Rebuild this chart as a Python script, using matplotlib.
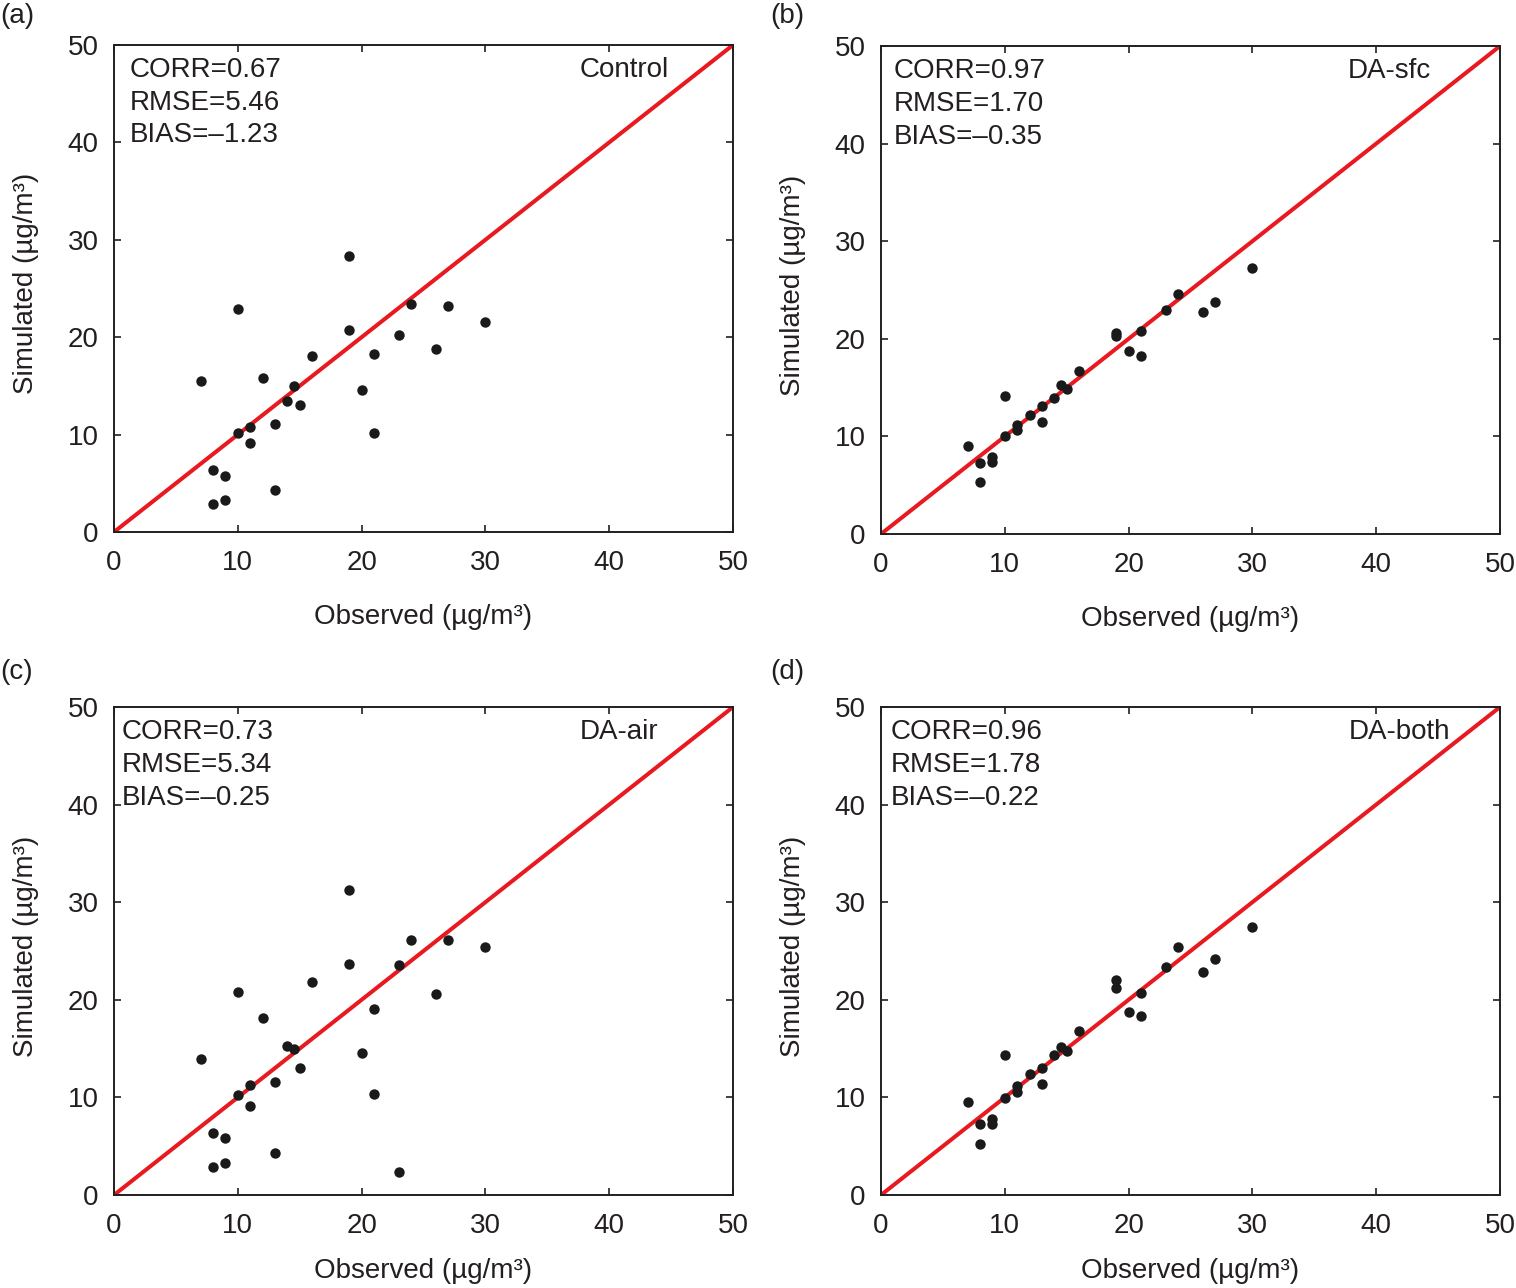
import matplotlib
matplotlib.use("Agg")
import matplotlib.pyplot as plt

plt.rcParams['font.family'] = ['Liberation Sans', 'DejaVu Sans']

# observed / simulated pairs
obs_a = [7, 8, 8, 9, 9, 10, 10, 11, 11, 12, 13, 13, 14, 14.5, 15, 16, 19, 19, 20, 21, 21, 23, 24, 26, 27, 30]
sim_a = [15.5, 6.4, 2.9, 5.8, 3.3, 22.9, 10.2, 10.8, 9.1, 15.8, 11.1, 4.3, 13.4, 15.0, 13.0, 18.1,
         28.3, 20.7, 14.6, 18.3, 10.2, 20.2, 23.4, 18.8, 23.2, 21.6]

obs_b = [7, 8, 8, 9, 9, 10, 10, 11, 11, 12, 13, 13, 14, 14.5, 15, 16, 19, 19, 20, 21, 21, 23, 24, 26, 27, 30]
sim_b = [9.0, 7.3, 5.3, 7.9, 7.4, 14.1, 10.0, 11.2, 10.7, 12.2, 13.1, 11.5, 13.9, 15.3, 14.9, 16.7,
         20.6, 20.3, 18.8, 20.8, 18.2, 23.0, 24.6, 22.7, 23.8, 27.3]

obs_c = [7, 8, 8, 9, 9, 10, 10, 11, 11, 12, 13, 13, 14, 14.5, 15, 16, 19, 19, 20, 21, 21, 23, 23, 24, 26, 27, 30]
sim_c = [13.9, 6.4, 2.9, 5.8, 3.3, 20.8, 10.2, 11.3, 9.1, 18.1, 11.6, 4.3, 15.3, 15.0, 13.0, 21.8,
         31.2, 23.7, 14.6, 19.1, 10.3, 23.6, 2.4, 26.1, 20.6, 26.1, 25.4]

obs_d = [7, 8, 8, 9, 9, 10, 10, 11, 11, 12, 13, 13, 14, 14.5, 15, 16, 19, 19, 20, 21, 21, 23, 24, 26, 27, 30]
sim_d = [9.5, 7.3, 5.2, 7.8, 7.3, 14.3, 9.9, 11.2, 10.6, 12.4, 13.0, 11.4, 14.3, 15.2, 14.8, 16.8,
         22.0, 21.2, 18.8, 20.7, 18.3, 23.4, 25.4, 22.8, 24.2, 27.5]

names = ['Control', 'DA-sfc', 'DA-air', 'DA-both']
letters = ['(a)', '(b)', '(c)', '(d)']
corr = ['0.67', '0.97', '0.73', '0.96']
rmse = ['5.46', '1.70', '5.34', '1.78']
bias = ['\u20131.23', '\u20130.35', '\u20130.25', '\u20130.22']
ticks = [0, 10, 20, 30, 40, 50]

W, H = 1516, 1288
FS = 20
fig = plt.figure(figsize=(W / 100, H / 100), dpi=100)

# axes boxes in pixels: left, top, right, bottom
boxes = [(114, 45, 733, 532), (881, 46, 1500, 534), (114, 707, 733, 1195), (881, 707, 1500, 1195)]
text_x = [0.026, 0.021, 0.013, 0.015]
name_x = [0.897, 0.889, 0.880, 0.919]
xlab_y = [-0.148, -0.148, -0.129, -0.129]
letter_pos = [(0, 16), (770, 16), (0, 672), (770, 672)]
data = [(obs_a, sim_a), (obs_b, sim_b), (obs_c, sim_c), (obs_d, sim_d)]

for i in range(4):
    l, t, r, b = boxes[i]
    ax = fig.add_axes([l / W, 1 - b / H, (r - l) / W, (b - t) / H])
    obs, sim = data[i]
    ax.plot([0, 50], [0, 50], color='#e8191f', lw=2.9, zorder=2)
    ax.plot(obs, sim, 'o', color='#1a1a1a', ms=7.5, mec='none', zorder=3)
    ax.set_xlim(0, 50)
    ax.set_ylim(0, 50)
    ax.set_xticks(ticks)
    ax.set_yticks(ticks)
    ax.tick_params(direction='in', length=5, width=1.2, top=True, right=True,
                   labelsize=FS, colors='#231f20')
    ax.tick_params(axis='x', pad=13)
    ax.tick_params(axis='y', pad=11)
    for s in ax.spines.values():
        s.set_linewidth(1.4)
        s.set_color('#231f20')
    ax.set_xlabel('Observed (\u00b5g/m\u00b3)', fontsize=FS, color='#231f20')
    ax.set_ylabel('Simulated (\u00b5g/m\u00b3)', fontsize=FS, color='#231f20')
    ax.xaxis.set_label_coords(0.5, xlab_y[i])
    ax.yaxis.set_label_coords(-0.121, 0.51)

    tx = text_x[i]
    ax.text(tx, 0.934, 'CORR=' + corr[i], transform=ax.transAxes, fontsize=FS, color='#231f20')
    ax.text(tx, 0.867, 'RMSE=' + rmse[i], transform=ax.transAxes, fontsize=FS, color='#231f20')
    ax.text(tx, 0.800, 'BIAS=' + bias[i], transform=ax.transAxes, fontsize=FS, color='#231f20')
    ax.text(name_x[i], 0.934, names[i], transform=ax.transAxes, ha='right', fontsize=FS, color='#231f20')

    px, py = letter_pos[i]
    fig.text(px / W, 1 - py / H, letters[i], fontsize=FS, va='center', color='#231f20')

fig.savefig('out.png', dpi=100)
